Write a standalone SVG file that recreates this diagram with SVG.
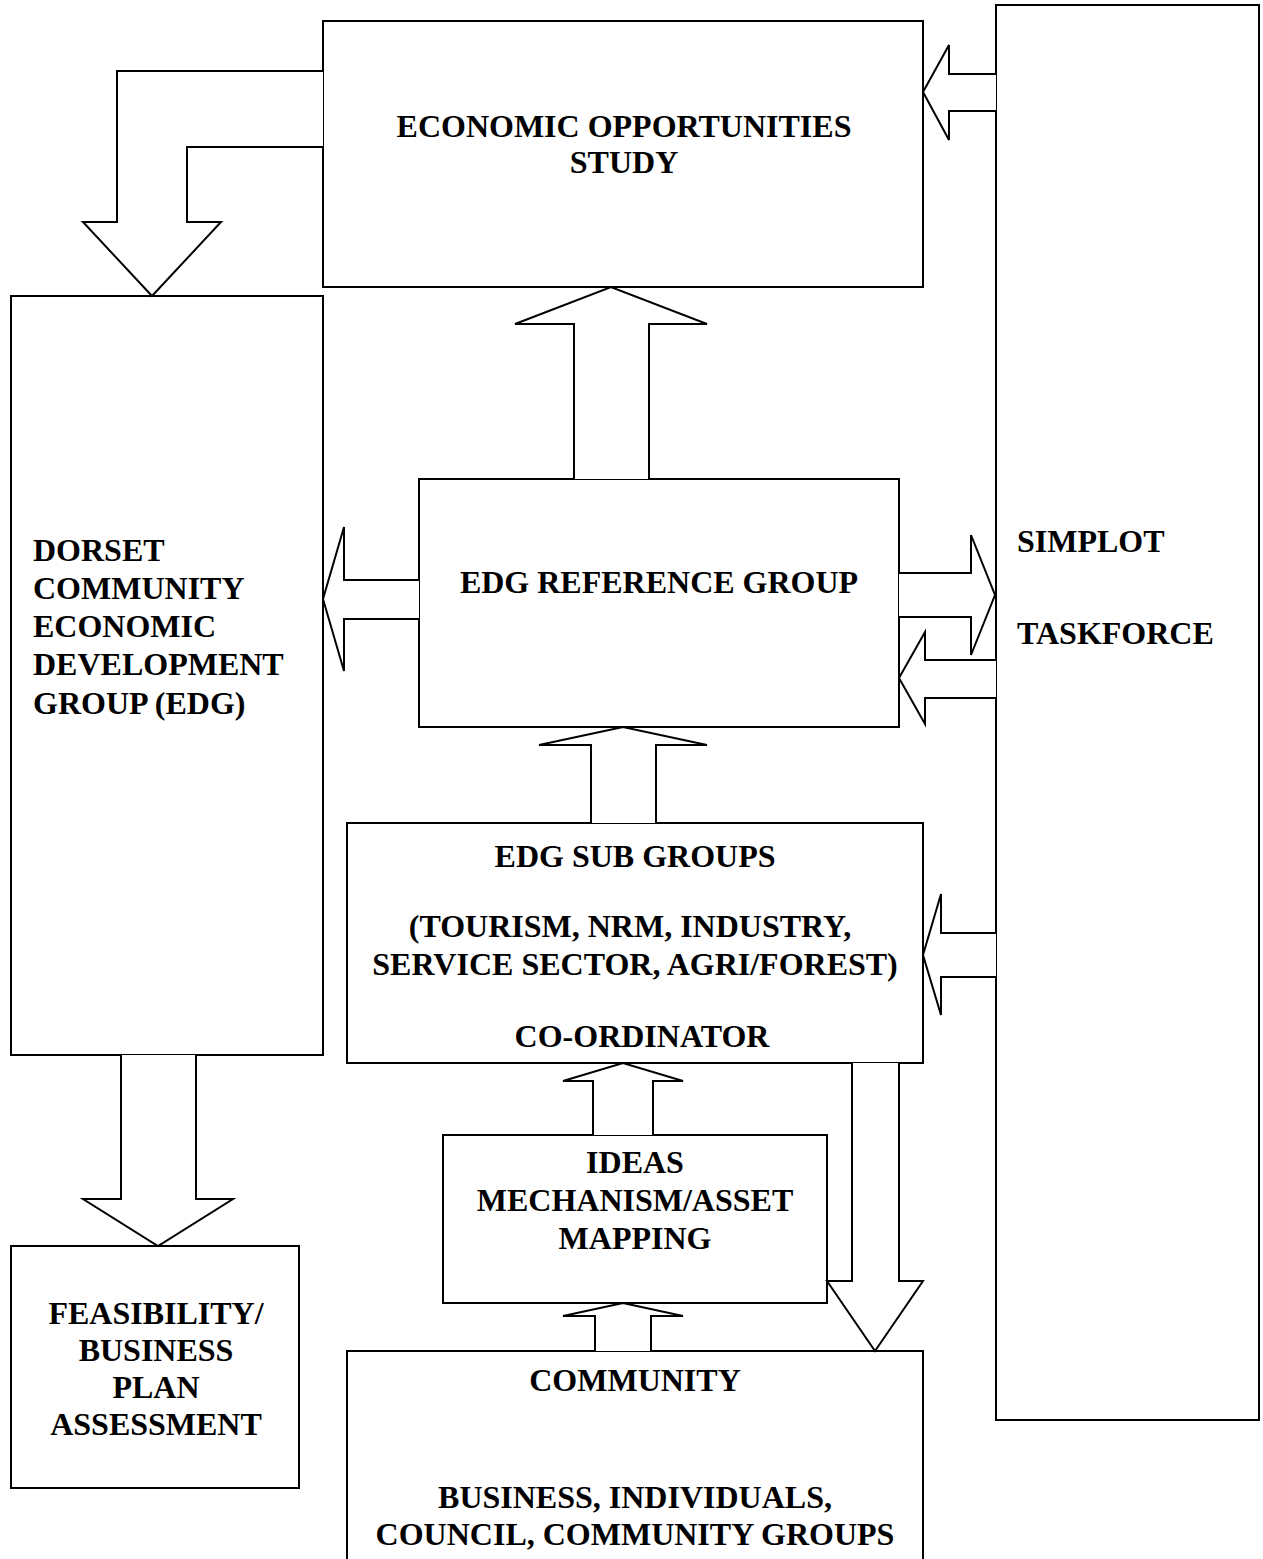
<svg xmlns="http://www.w3.org/2000/svg" width="1263" height="1559" viewBox="0 0 1263 1559">
<style>
.box{fill:#fff;stroke:#000;stroke-width:2}
.arr{fill:#fff;stroke:#000;stroke-width:2;stroke-linejoin:miter}
text{font-family:"Liberation Serif","Times New Roman",serif;font-weight:bold;font-size:32px;fill:#000}
.c{text-anchor:middle}
</style>
<rect width="1263" height="1559" fill="#fff"/>
<g id="nodes">
<g id="eos"><rect class="box" x="323" y="21" width="600" height="266"/>
<text class="c" x="624" y="137">ECONOMIC OPPORTUNITIES</text><text class="c" x="624" y="173">STUDY</text></g>
<g id="dorset"><rect class="box" x="11" y="296" width="312" height="759"/>
<text x="33" y="561">DORSET</text><text x="33" y="599">COMMUNITY</text><text x="33" y="637">ECONOMIC</text><text x="33" y="675">DEVELOPMENT</text><text x="33" y="714">GROUP (EDG)</text></g>
<g id="simplot"><rect class="box" x="996" y="5" width="263" height="1415"/>
<text x="1017" y="552">SIMPLOT</text><text x="1017" y="644">TASKFORCE</text></g>
<g id="edgref"><rect class="box" x="419" y="479" width="480" height="248"/>
<text class="c" x="659" y="593">EDG REFERENCE GROUP</text></g>
<g id="subgroups"><rect class="box" x="347" y="823" width="576" height="240"/>
<text class="c" x="635" y="867">EDG SUB GROUPS</text><text class="c" x="630" y="937">(TOURISM, NRM, INDUSTRY,</text><text class="c" x="635" y="975">SERVICE SECTOR, AGRI/FOREST)</text><text class="c" x="642" y="1047">CO-ORDINATOR</text></g>
<g id="ideas"><rect class="box" x="443" y="1135" width="384" height="168"/>
<text class="c" x="635" y="1173">IDEAS</text><text class="c" x="635" y="1211">MECHANISM/ASSET</text><text class="c" x="635" y="1249">MAPPING</text></g>
<g id="feasibility"><rect class="box" x="11" y="1246" width="288" height="242"/>
<text class="c" x="156" y="1324">FEASIBILITY/</text><text class="c" x="156" y="1361">BUSINESS</text><text class="c" x="156" y="1398">PLAN</text><text class="c" x="156" y="1435">ASSESSMENT</text></g>
<g id="community"><path class="box" d="M347,1565 V1351 H923 V1565"/>
<text class="c" x="635" y="1391">COMMUNITY</text><text class="c" x="635" y="1508">BUSINESS, INDIVIDUALS,</text><text class="c" x="635" y="1545">COUNCIL, COMMUNITY GROUPS</text></g>
</g>
<g id="connectors">
<polyline class="arr" points="323,71 117,71 117,222 83,222 152,296 221,222 187,222 187,147 323,147"/>
<polyline class="arr" points="996,74 949,74 949,45 923,92 949,140 949,111 996,111"/>
<polyline class="arr" points="574,479 574,324 515,324 611,287 707,324 649,324 649,479"/>
<polyline class="arr" points="419,580 344,580 344,527 323,599 344,671 344,619 419,619"/>
<polyline class="arr" points="899,573 971,573 971,535 995,595 971,655 971,617 899,617"/>
<polyline class="arr" points="996,660 925,660 925,632 899,678 925,724 925,698 996,698"/>
<polyline class="arr" points="591,823 591,745 539,745 623,727 707,745 656,745 656,823"/>
<polyline class="arr" points="996,933 941,933 941,894 923,955 941,1015 941,977 996,977"/>
<polyline class="arr" points="593,1135 593,1081 563,1081 623,1063 683,1081 653,1081 653,1135"/>
<polyline class="arr" points="852,1063 852,1281 827,1281 875,1351 923,1281 899,1281 899,1063"/>
<polyline class="arr" points="595,1351 595,1316 563,1316 623,1303 683,1316 651,1316 651,1351"/>
<polyline class="arr" points="121,1055 121,1199 83,1199 158,1246 233,1199 196,1199 196,1055"/>
</g>
</svg>
